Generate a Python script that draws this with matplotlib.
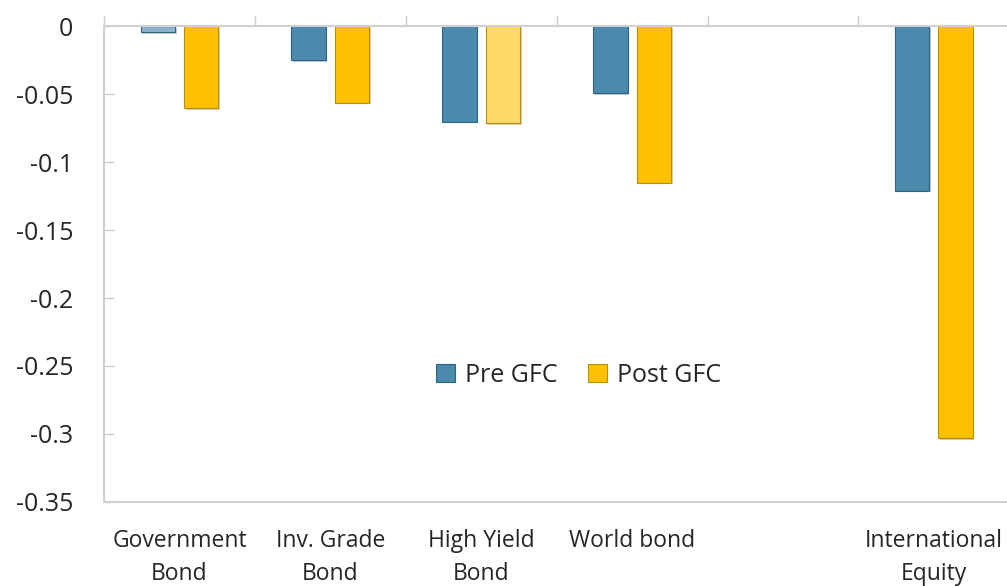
import numpy as np
import matplotlib
matplotlib.use("Agg")
import matplotlib.pyplot as plt
import matplotlib.patheffects as pe

plt.rcParams["font.family"] = ["Open Sans", "DejaVu Sans"]

# Data
categories = ["Government\nBond", "Inv. Grade\nBond", "High Yield\nBond",
              "World bond", "", "International\nEquity"]
pre_gfc = [-0.004, -0.025, -0.070, -0.049, np.nan, -0.121]
post_gfc = [-0.060, -0.056, -0.071, -0.115, np.nan, -0.303]
y_ticks = [0, -0.05, -0.1, -0.15, -0.2, -0.25, -0.3, -0.35]
y_tick_labels = ["0", "-0.05", "-0.1", "-0.15", "-0.2", "-0.25", "-0.3", "-0.35"]

# Styling
blue, blue_light, blue_edge = "#4a8aad", "#8fb1cd", "#2f6382"
yellow, yellow_light, yellow_edge = "#ffc000", "#ffd966", "#b8900a"
axis_grey = "#d0d0d0"
text_col = "#262626"

pre_colors = [blue_light, blue, blue, blue, blue, blue]
post_colors = [yellow, yellow, yellow_light, yellow, yellow, yellow]

fig = plt.figure(figsize=(10.07, 5.86), dpi=100)
ax = fig.add_axes([0.1033, 0.1439, 0.899, 0.8109])

x = np.arange(len(categories))
offset, width = 0.144, 0.228
shadow = [pe.SimplePatchShadow(offset=(1.2, -1.2), alpha=0.25), pe.Normal()]

bars_pre = ax.bar(x - offset, pre_gfc, width, color=pre_colors,
                  edgecolor=blue_edge, linewidth=0.8, label="Pre GFC")
bars_post = ax.bar(x + offset, post_gfc, width, color=post_colors,
                   edgecolor=yellow_edge, linewidth=0.8, label="Post GFC")
for b in list(bars_pre) + list(bars_post):
    b.set_path_effects(shadow)

ax.set_xlim(-0.5, len(categories) - 0.5)
ax.set_ylim(-0.35, 0)

# Y axis
ax.set_yticks(y_ticks)
ax.set_yticklabels(y_tick_labels)
ax.tick_params(axis="y", direction="in", length=7, width=1, color=axis_grey,
               pad=22, labelsize=18, labelcolor=text_col)

# X axis: labels at the bottom, category boundary ticks on the zero line
ax.set_xticks(x)
ax.set_xticklabels(categories, linespacing=1.5)
ax.set_xticks(np.arange(len(categories) + 1) - 0.5, minor=True)
ax.tick_params(axis="x", which="major", length=0, pad=20, labelsize=16.5,
               labelcolor=text_col)
ax.tick_params(axis="x", which="minor", top=True, bottom=False, direction="out",
               length=8, width=1, color=axis_grey)

for side in ["left", "top", "bottom"]:
    ax.spines[side].set_color(axis_grey)
    ax.spines[side].set_linewidth(1.5)
ax.spines["right"].set_visible(False)

leg = fig.legend(handles=[bars_pre, bars_post], labels=["Pre GFC", "Post GFC"],
                 loc="center", bbox_to_anchor=(0.5745, 0.36), ncol=2,
                 frameon=False, fontsize=18, handlelength=0.75, handleheight=0.75,
                 handletextpad=0.4, columnspacing=1.2, labelcolor=text_col)
for h, c in zip(leg.legend_handles, [blue, yellow]):
    h.set_facecolor(c)
    h.set_path_effects([])

fig.savefig("out.png", dpi=100)
